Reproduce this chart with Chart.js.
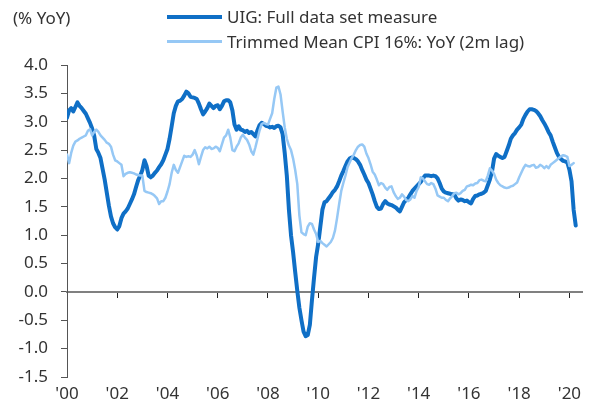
<!DOCTYPE html>
<html lang="en">
<head>
<meta charset="UTF-8">
<title>UIG vs Trimmed Mean CPI</title>
<script src="https://cdn.jsdelivr.net/npm/chart.js"></script>
<style>
  body { margin: 0; background: #fff; font-family: "Noto Sans", sans-serif; color: #333; }
  #wrap { position: relative; width: 605px; height: 410px; }
  .unit { position: absolute; left: 13px; top: 6px; font-size: 17px; line-height: 24px; }
  .legend { position: absolute; left: 167px; top: 4px; font-size: 17px; }
  .legend div { display: flex; align-items: center; height: 25px; }
  .legend .swatch { display: inline-block; width: 55px; margin-right: 5px; }
</style>
</head>
<body>
<div id="wrap">
  <canvas id="chart" width="605" height="410"></canvas>
  <div class="unit">(% YoY)</div>
  <div class="legend">
    <div><span class="swatch" style="height:4px;background:#0f6fc6"></span>UIG: Full data set measure</div>
    <div><span class="swatch" style="height:3px;background:#96c8f5"></span>Trimmed Mean CPI 16%: YoY (2m lag)</div>
  </div>
</div>
<script>
// monthly, starting Jan 2000
const startYear = 2000;
const uig = [
  3.07, 3.20, 3.24, 3.18, 3.26, 3.34, 3.28, 3.24, 3.19, 3.14, 3.06, 2.98,
  2.88, 2.75, 2.52, 2.45, 2.36, 2.17, 1.98, 1.75, 1.52, 1.33, 1.21, 1.14,
  1.10, 1.16, 1.30, 1.38, 1.42, 1.47, 1.55, 1.63, 1.72, 1.85, 1.97, 2.05,
  2.15, 2.32, 2.22, 2.05, 2.02, 2.05, 2.10, 2.14, 2.20, 2.25, 2.32, 2.42,
  2.52, 2.70, 2.92, 3.15, 3.28, 3.36, 3.37, 3.40, 3.46, 3.53, 3.50, 3.44,
  3.43, 3.42, 3.40, 3.32, 3.22, 3.13, 3.18, 3.24, 3.32, 3.28, 3.24, 3.28,
  3.29, 3.22, 3.28, 3.36, 3.38, 3.38, 3.34, 3.20, 2.95, 2.86, 2.92, 2.86,
  2.85, 2.82, 2.84, 2.80, 2.82, 2.78, 2.74, 2.85, 2.94, 2.98, 2.96, 2.93,
  2.92, 2.90, 2.91, 2.89, 2.92, 2.93, 2.90, 2.78, 2.45, 2.05, 1.45, 1.00,
  0.70, 0.35, 0.02, -0.28, -0.50, -0.70, -0.78, -0.76, -0.58, -0.15, 0.25, 0.62,
  0.85, 1.15, 1.45, 1.58, 1.60, 1.65, 1.70, 1.76, 1.80, 1.86, 1.95, 2.05,
  2.13, 2.22, 2.30, 2.35, 2.37, 2.36, 2.34, 2.30, 2.24, 2.15, 2.07, 1.98,
  1.92, 1.82, 1.72, 1.60, 1.50, 1.46, 1.47, 1.55, 1.60, 1.56, 1.54, 1.53,
  1.51, 1.49, 1.45, 1.42, 1.50, 1.58, 1.62, 1.66, 1.72, 1.78, 1.82, 1.86,
  1.90, 1.94, 2.00, 2.05, 2.05, 2.05, 2.04, 2.05, 2.04, 2.00, 1.92, 1.82,
  1.77, 1.75, 1.74, 1.73, 1.72, 1.72, 1.65, 1.61, 1.63, 1.62, 1.60, 1.61,
  1.58, 1.56, 1.64, 1.69, 1.70, 1.72, 1.73, 1.75, 1.78, 1.88, 1.98, 2.12,
  2.35, 2.43, 2.40, 2.38, 2.36, 2.38, 2.48, 2.58, 2.70, 2.76, 2.80, 2.86,
  2.90, 2.95, 3.05, 3.12, 3.18, 3.22, 3.22, 3.21, 3.19, 3.15, 3.10, 3.03,
  2.97, 2.90, 2.82, 2.76, 2.65, 2.55, 2.45, 2.38, 2.34, 2.31, 2.30, 2.28,
  2.15, 1.95, 1.45, 1.17
];
const trimmed = [
  2.42, 2.27, 2.45, 2.58, 2.65, 2.67, 2.70, 2.72, 2.74, 2.76, 2.84, 2.87,
  2.76, 2.82, 2.86, 2.82, 2.76, 2.72, 2.68, 2.63, 2.61, 2.56, 2.42, 2.32,
  2.30, 2.27, 2.24, 2.04, 2.08, 2.10, 2.11, 2.10, 2.09, 2.07, 2.06, 2.05,
  2.05, 1.78, 1.76, 1.75, 1.74, 1.72, 1.69, 1.65, 1.55, 1.60, 1.60, 1.66,
  1.77, 1.90, 2.10, 2.24, 2.15, 2.10, 2.20, 2.30, 2.40, 2.38, 2.39, 2.38,
  2.42, 2.50, 2.40, 2.25, 2.38, 2.50, 2.55, 2.53, 2.56, 2.52, 2.53, 2.56,
  2.54, 2.48, 2.60, 2.72, 2.76, 2.86, 2.72, 2.50, 2.48, 2.56, 2.62, 2.72,
  2.77, 2.72, 2.68, 2.60, 2.48, 2.42, 2.55, 2.70, 2.85, 2.96, 2.98, 2.96,
  2.95, 3.05, 3.15, 3.40, 3.60, 3.62, 3.48, 3.18, 2.90, 2.70, 2.58, 2.50,
  2.35, 2.15, 1.90, 1.35, 1.05, 1.02, 1.00, 1.15, 1.21, 1.20, 1.10, 1.02,
  0.88, 0.90, 0.86, 0.83, 0.80, 0.84, 0.88, 0.95, 1.08, 1.30, 1.55, 1.78,
  1.92, 2.05, 2.20, 2.28, 2.36, 2.42, 2.50, 2.56, 2.59, 2.60, 2.56, 2.44,
  2.36, 2.25, 2.12, 2.07, 1.98, 1.88, 1.92, 1.90, 1.84, 1.80, 1.85, 1.86,
  1.76, 1.69, 1.64, 1.66, 1.72, 1.68, 1.62, 1.60, 1.63, 1.69, 1.66, 1.78,
  1.85, 2.02, 2.00, 1.95, 1.90, 1.89, 1.92, 1.90, 1.82, 1.70, 1.68, 1.66,
  1.66, 1.62, 1.60, 1.65, 1.69, 1.74, 1.75, 1.72, 1.74, 1.78, 1.80, 1.86,
  1.87, 1.89, 1.88, 1.91, 1.92, 1.97, 1.98, 1.96, 1.95, 2.05, 2.18, 2.14,
  2.08, 1.98, 1.92, 1.88, 1.86, 1.84, 1.83, 1.84, 1.86, 1.87, 1.90, 1.93,
  2.02, 2.10, 2.18, 2.24, 2.22, 2.21, 2.23, 2.24, 2.19, 2.20, 2.24, 2.22,
  2.18, 2.22, 2.18, 2.24, 2.27, 2.30, 2.33, 2.36, 2.39, 2.41, 2.40, 2.38,
  2.22, 2.24, 2.27
];
const yTicks = { min: -1.5, max: 4.0, step: 0.5 };
const xTicks = { min: 2000, max: 2020.5, step: 2 };

const toPoints = arr => arr.map((v, i) => ({ x: startYear + i / 12, y: v }));
const font = { family: '"Noto Sans", sans-serif', size: 17 };

new Chart(document.getElementById('chart'), {
  type: 'line',
  data: {
    datasets: [{
      label: 'UIG: Full data set measure',
      data: toPoints(uig),
      borderColor: '#0f6fc6',
      borderWidth: 4,
      order: 2
    }, {
      label: 'Trimmed Mean CPI 16%: YoY (2m lag)',
      data: toPoints(trimmed),
      borderColor: '#96c8f5',
      borderWidth: 2.5,
      order: 1
    }]
  },
  options: {
    responsive: false,
    animation: false,
    layout: { padding: { top: 65, right: 23, left: 0, bottom: 0 } },
    elements: {
      point: { radius: 0 },
      line: { tension: 0, borderJoinStyle: 'round', borderCapStyle: 'round' }
    },
    plugins: { legend: { display: false }, tooltip: { enabled: false } },
    scales: {
      x: {
        type: 'linear',
        position: 'bottom',
        min: xTicks.min,
        max: xTicks.max,
        grid: { display: false, drawTicks: false },
        border: { display: false },
        ticks: {
          stepSize: xTicks.step,
          includeBounds: false,
          padding: 7,
          color: '#333',
          font: font,
          maxRotation: 0,
          callback: v => "'" + String(v).slice(2)
        },
        afterFit: s => { s.height = 33; }
      },
      x2: {
        type: 'linear',
        position: { y: 0 },
        min: xTicks.min,
        max: xTicks.max,
        grid: { drawOnChartArea: false, drawTicks: true, tickLength: 5, color: '#222', lineWidth: 1 },
        border: { color: '#808080', width: 2 },
        ticks: { stepSize: xTicks.step, includeBounds: false, display: false }
      },
      y: {
        min: yTicks.min,
        max: yTicks.max,
        grid: { drawOnChartArea: false, drawTicks: true, tickLength: 6, color: '#555' },
        border: { color: '#555', width: 1 },
        ticks: {
          stepSize: yTicks.step,
          padding: 13,
          color: '#333',
          font: font,
          callback: v => v.toFixed(1)
        },
        afterFit: s => { s.width = 67; }
      }
    }
  }
});
</script>
</body>
</html>
